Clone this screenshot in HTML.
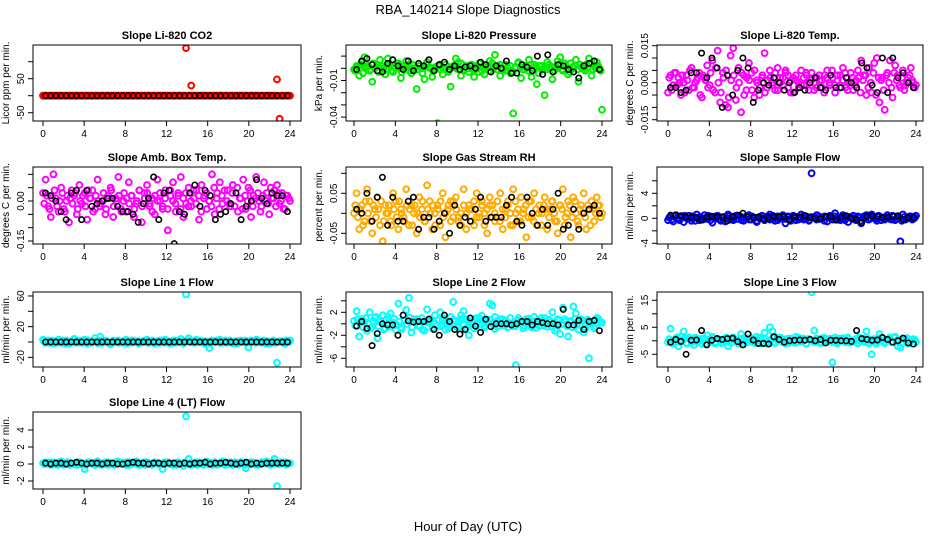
<!DOCTYPE html>
<html><head><meta charset="utf-8"><style>
html,body{margin:0;padding:0;background:#fff;}
svg text{font-family:"Liberation Sans",Arial,sans-serif;}
</style></head><body>
<svg id="chart" width="936" height="540" viewBox="0 0 936 540" xmlns="http://www.w3.org/2000/svg">
<text x="468" y="14" text-anchor="middle" font-size="13">RBA_140214  Slope Diagnostics</text>
<text x="468" y="531" text-anchor="middle" font-size="13">Hour of Day (UTC)</text>
</svg>
<script>
// ---- data (values in scaled units; see panel scale) ----
const xTicks = [0,4,8,12,16,20,24];
const co2Color = [0,0,0,0,0,0,0,0,0,0,0,0,0,0,0,0,0,0,0,0,0,0,0,0,0,0,0,0,0,0,0,0,0,0,0,0,0,0,0,0,0,0,0,0,0,0,0,0,0,0,0,0,0,0,0,140,0,30,0,0,0,0,0,0,0,0,0,0,0,0,0,0,0,0,0,0,0,0,0,0,0,0,0,0,0,0,0,0,0,0,48,-68,0,0,0,0];
const co2Color2 = [0,0,0,0,0,0,0,0,0,0,0,0,0,0,0,0,0,0,0,0,0,0,0,0,0,0,0,0,0,0,0,0,0,0,0,0,0,0,0,0,0,0,0,0,0,0,0,0,0,0,0,0,0,0,0,0,0,0,0,0,0,0,0,0,0,0,0,0,0,0,0,0,0,0,0,0,0,0,0,0,0,0,0,0,0,0,0,0,0,0,0,0,0,0,0,0];
const co2Black = [0,0,0,0,0,0,0,0,0,0,0,0,0,0,0,0,0,0,0,0,0,0,0,0,0,0,0,0,0,0,0,0,0,0,0,0,0,0,0,0,0,0,0,0,0,0,0,0];
const presColor = [-1,2,-6,5,9,1,-2,-11,0,3,7,-1,-5,8,2,-3,1,4,-8,0,6,3,-4,-1,-17,2,0,-9,5,1,-7,-1,-45,3,-5,0,-2,-15,1,8,5,-6,-1,2,-3,3,-7,0,4,-2,-5,1,6,0,11,2,-6,-1,3,-2,-4,-37,1,5,-8,-1,0,7,-7,3,-13,2,-1,-22,5,0,-9,1,6,9,-2,2,-5,4,0,7,-11,1,-1,3,8,-6,2,5,0,-34];
const presColor2 = [-2,1,3,-4,0,2,-1,4,1,-3,2,0,-1,3,-2,1,4,0,-3,2,1,-2,3,0,-1,2,-4,1,3,0,-2,1,2,-1,0,3,-3,1,2,0,-1,4,-2,1,0,3,-1,2,-3,1,0,2,-2,4,1,-1,3,0,-2,1,2,-3,0,4,1,-1,2,-2,3,0,1,-4,2,0,-1,3,1,-2,0,2,-1,4,0,-3,1,2,-1,3,0,-2,1,4,-1,0,2,-2];
const presBlack = [-1,6,8,3,-2,-3,4,7,2,-1,6,-2,4,2,7,-2,3,5,-1,2,-1,1,2,0,5,3,-3,2,0,6,-4,-4,3,1,-2,10,-5,11,-3,3,2,-1,-3,-8,2,4,6,-1];
const tempColor = [-4,3,-1,4,2,-5,0,3,-3,6,-2,1,4,-6,2,7,-1,9,-4,13,-8,4,-9,-10,11,14,-7,6,-12,3,-3,8,4,-6,1,-5,2,12,-2,5,0,-3,6,2,-1,4,3,-4,2,1,-2,5,-1,3,0,4,-3,2,1,-2,3,5,-1,2,-4,1,3,6,-2,0,4,-3,1,2,9,3,-5,6,-4,8,10,-8,2,-11,4,9,-6,7,3,-2,5,-1,2,6,0,-1];
const tempColor2 = [2,-3,4,-1,0,3,-4,1,5,-2,0,2,-5,3,1,-2,4,-3,6,0,-4,2,5,-6,1,3,-2,0,4,-5,2,1,-3,5,0,-2,3,-4,1,2,-1,4,-3,0,2,5,-2,1,-4,3,0,-1,2,4,-3,1,0,-2,3,1,-4,2,0,5,-1,3,-2,1,4,-3,0,2,-1,5,-4,1,3,-2,0,4,-5,2,1,-3,3,0,-2,4,1,-1,2,-3,0,3,1,-2];
const tempBlack = [-2,-2,-4,-3,4,4,12,2,10,6,-10,3,-5,5,10,6,-8,-3,0,-1,2,0,-3,0,-4,-2,-3,0,2,-2,-3,3,-2,-2,2,0,-2,8,6,-1,-4,10,-4,10,2,4,0,-2];
const ambColor = [3,8,-2,-6,10,1,-4,5,-3,0,-8,4,2,-5,6,-1,3,-7,1,4,-3,8,-2,0,-5,2,5,-6,1,9,-3,0,-4,7,2,-6,-1,4,-8,3,6,-2,1,-5,8,0,-3,4,-11,2,7,-4,3,9,-6,-1,5,-2,1,4,-7,6,2,-3,0,10,-5,3,7,-1,14,4,-2,6,14,-4,1,8,-3,5,-6,2,9,0,-2,7,3,-5,1,4,6,-1,3,-3,2,0];
const ambColor2 = [-1,2,-3,1,4,-2,0,3,-4,2,1,-1,3,-3,0,2,-2,4,1,-4,2,0,-1,3,-3,1,4,-2,0,2,-4,3,1,-1,2,-3,0,4,-2,1,3,-1,-4,2,0,3,-2,1,-3,4,0,-1,2,-3,1,3,-2,0,4,-1,2,-4,1,3,0,-2,5,1,-3,2,4,0,-1,3,-2,5,1,-3,2,0,4,-2,1,3,-4,2,0,-1,5,1,-2,3,0,-3,2,1];
const ambBlack = [3,2,0,-4,-7,3,4,-7,4,-2,-1,0,1,1,-2,-4,-4,-5,-8,-1,1,9,-7,3,4,-16,-4,-5,3,6,-2,4,2,-7,-5,-4,-1,3,-7,-2,0,8,1,-1,3,2,2,-4];
const rhColor = [0,5,-4,2,-2,6,3,-5,1,4,-3,-7,2,0,-2,5,3,-4,1,-1,6,-3,2,0,-5,4,1,-2,7,3,-4,0,2,-3,5,-6,1,3,-1,4,-2,0,6,-4,2,1,-3,5,-1,3,0,-5,4,2,-2,13,5,-4,1,3,-3,6,0,-2,4,1,-6,3,-1,5,-3,2,0,4,-4,1,3,-2,-5,2,6,-1,3,-6,4,0,-3,2,5,-4,1,3,-2,4,2,0];
const rhColor2 = [2,-1,1,-3,3,0,-2,2,-1,1,3,-2,0,2,-3,1,-1,3,0,-2,2,1,-3,2,0,-1,3,-2,1,0,2,-3,1,3,-1,0,2,-2,3,1,-1,-3,2,0,1,-2,3,-1,0,2,-3,1,2,-1,0,3,-2,1,-1,2,0,-3,3,1,-2,0,2,-1,3,-2,1,0,-3,2,1,-1,3,0,-2,2,1,-3,0,2,-1,3,-2,1,0,-1,2,-3,1,0,2,-1];
const rhBlack = [1,0,5,-2,4,9,-3,4,-2,-2,3,4,-4,-1,-1,-4,-2,0,-5,2,-3,-1,-2,1,4,-2,-1,-1,-1,2,4,-2,-3,4,0,-3,1,-3,1,5,-4,-3,1,-4,0,1,2,0];
const sampColor = [-3,2,-5,5,-2,3,-6,1,4,-4,2,6,-3,0,5,-1,3,-7,2,4,-2,1,-5,6,0,-3,4,-1,2,-4,3,5,-2,1,-6,0,4,-3,2,6,-1,-4,3,0,5,-8,2,-1,4,-3,1,6,-2,3,-4,72,2,5,-1,0,3,-5,4,-2,8,1,-3,5,0,-6,2,4,-3,1,-8,3,5,-2,6,0,-4,3,1,-2,5,-1,4,-3,2,-37,6,-2,1,3,-1,4];
const sampColor2 = [1,-2,3,0,-3,2,4,-1,0,3,-4,1,2,-2,0,4,-3,1,3,-1,-4,2,0,3,-2,1,-1,4,-3,0,2,-2,3,1,-4,2,0,-1,3,-2,4,1,-3,0,2,-1,3,-4,1,2,-2,0,4,-1,-3,2,1,-2,3,0,-4,2,1,-1,3,-2,0,4,-3,1,2,-1,0,3,-4,1,2,-2,0,3,-1,4,-3,1,0,2,-2,3,-1,1,-4,2,0,3,-2,1];
const sampBlack = [5,5,4,2,2,1,-3,2,3,2,2,-4,3,5,8,2,1,2,-2,1,3,2,3,-3,3,2,4,1,0,-1,2,3,-3,2,4,0,-2,-7,3,4,3,1,2,3,4,-2,1,1];
const l1Color = [3,-1,2,0,-2,1,3,-1,0,2,-2,1,4,0,-1,2,3,-2,1,0,5,1,7,-1,2,0,-3,1,0,2,-1,1,3,0,-1,2,1,-2,0,1,3,-1,2,0,1,-1,2,3,0,-2,1,2,0,4,1,62,5,2,-1,3,0,1,-2,-1,-8,2,0,1,3,-1,2,0,1,-2,0,1,2,0,-1,-7,2,1,3,0,-1,2,1,-2,0,-1,-27,1,0,-2,1,2];
const l1Color2 = [1,0,-1,2,1,-1,0,2,-2,1,0,1,-1,2,0,-1,1,2,-1,0,1,-2,2,0,1,-1,0,2,1,-1,0,1,-2,1,2,0,-1,1,0,2,-1,0,1,-2,1,2,0,-1,1,0,2,-1,1,0,-2,1,2,0,-1,1,0,2,-1,1,-2,0,1,2,-1,0,1,-1,2,0,1,-2,0,1,2,-1,0,1,-1,2,0,1,-2,1,0,2,-1,0,1,-1,2,0];
const l1Black = [0,0,0,0,0,0,0,0,0,0,0,0,0,0,0,0,0,0,0,0,0,0,0,0,0,0,0,0,0,0,0,0,0,0,0,0,0,0,0,0,0,0,0,0,0,0,0,0];
const l2Color = [5,22,-22,8,3,-12,20,-5,10,-25,4,15,-8,12,18,2,-10,35,-6,15,24,45,-15,8,3,-5,10,-12,25,4,-8,15,-3,20,6,-10,-2,12,38,5,-6,15,22,8,-20,3,-8,10,5,14,-4,6,35,32,12,-5,8,-3,6,2,0,-4,-72,10,5,-3,8,3,-6,12,0,-4,6,10,-5,3,20,-12,8,-18,28,4,-22,5,30,18,-10,8,-15,6,-60,3,-8,10,5,2];
const l2Color2 = [-3,8,2,-6,10,0,-8,5,12,-4,3,-10,7,1,-5,9,-2,4,-9,6,0,11,-6,3,8,-3,-10,5,2,9,-7,0,6,-4,10,3,-8,1,7,-5,4,9,-2,-7,5,1,8,-4,10,-1,-6,3,7,0,-9,5,2,8,-3,-6,10,1,-4,6,3,-8,0,9,-2,5,-7,4,10,-3,1,7,-5,2,-9,6,0,8,-4,3,-6,9,1,-2,5,-8,7,0,4,-5,9,2];
const l2Black = [-4,4,-8,-38,-17,0,-2,-2,-20,15,5,3,4,4,8,-10,-20,15,4,-10,-18,-10,10,-4,-15,8,-5,0,0,0,-2,0,4,4,-2,4,2,0,0,-2,25,-2,-2,6,-10,4,6,-12];
const l3Color = [-5,45,-10,8,-20,15,35,-8,12,0,-15,10,5,-12,8,20,-5,15,-10,8,3,-6,10,-20,5,12,0,-8,25,-12,6,-3,10,-5,15,8,-10,30,-4,50,35,-8,12,0,5,-10,8,3,-6,15,12,-2,8,-10,5,180,38,6,-8,10,3,-5,8,-80,12,-3,5,10,-6,8,0,-4,6,12,-2,8,35,-10,-50,6,-3,25,10,-8,4,12,-5,15,-20,-25,8,5,-10,3,6,-5];
const l3Color2 = [6,-8,3,12,-4,0,9,-10,5,-2,11,-6,2,8,-12,4,0,10,-5,7,-9,3,12,-3,-7,6,1,-11,8,2,-5,10,-1,-8,4,11,-3,6,-10,2,9,-6,0,12,-4,5,-9,8,1,-7,10,-2,4,-11,7,0,-5,9,3,-8,11,-1,6,-4,2,-10,8,5,-3,12,-7,0,4,-9,10,1,-5,7,-2,3,-11,9,0,-6,5,8,-4,11,-1,2,-8,6,10,-3,0,4];
const l3Black = [-5,5,-2,-50,2,3,38,-15,2,8,5,8,10,-3,-15,25,3,-10,-10,-12,15,5,-5,0,2,3,2,5,0,5,-8,2,2,0,0,-2,38,8,5,2,3,12,5,-5,0,10,-8,-12];
const l4Color = [1,2,0,-1,2,1,0,3,-1,1,2,0,1,-1,2,0,-6,1,2,0,-1,3,1,0,2,-1,0,1,2,3,0,1,-1,2,0,1,3,-1,0,2,1,0,-1,2,1,0,-6,1,2,0,-1,1,2,0,-2,56,6,1,0,-1,2,1,0,3,1,-1,2,0,1,3,-1,0,2,1,0,-1,2,1,-5,0,2,1,-1,0,2,1,3,0,1,6,-26,0,1,2,0,1];
const l4Color2 = [0,1,2,0,1,-1,2,0,1,2,-1,0,1,2,0,1,-1,2,1,0,2,1,-1,0,1,2,0,-1,1,2,0,1,2,-1,0,1,2,1,0,-1,2,0,1,2,1,-1,0,2,1,0,1,-1,2,0,1,2,0,-1,1,2,1,0,-1,2,0,1,2,-1,0,1,2,0,1,-1,2,1,0,2,-1,1,0,2,1,-1,0,2,1,0,-1,2,1,0,2,1,-1,0];
const l4Black = [1,0,1,1,0,1,2,1,0,1,1,0,1,1,0,0,1,2,1,1,0,1,1,0,1,1,0,1,0,1,1,2,0,1,1,2,1,0,1,2,0,1,0,1,1,1,1,1];

// ---- layout (presentation) ----
const colX = [[33,301,43,290],[346,612,354,602],[657,923,668,916]];
const rowY = [[45,121],[167,244],[292,367],[412,489]];
const panels = [
 {name:'co2',title:'Slope Li-820 CO2',ylab:'Licor ppm per min.',c:0,r:0,color:'#ff0000',cv:co2Color,cv2:co2Color2,bv:co2Black,y0:95.7,k:0.34,ticks:[-50,0,50,100],labs:[[-50,'-50'],[50,'50']]},
 {name:'pressure',title:'Slope Li-820 Pressure',ylab:'kPa per min.',c:1,r:0,color:'#00ee00',cv:presColor,cv2:presColor2,bv:presBlack,y0:68.3,k:1.22,ticks:[-40,-30,-20,-10,0,10],labs:[[-40,'-0.04'],[-10,'-0.01']]},
 {name:'temp',title:'Slope Li-820 Temp.',ylab:'degrees C per min.',c:2,r:0,color:'#ff00ff',cv:tempColor,cv2:tempColor2,bv:tempBlack,y0:82.7,k:2.467,ticks:[-15,-10,-5,0,5,10,15],labs:[[-15,'-0.015'],[0,'0.000'],[15,'0.015']]},
 {name:'amb-temp',title:'Slope Amb. Box Temp.',ylab:'degrees C per min.',c:0,r:1,color:'#ff00ff',cv:ambColor,cv2:ambColor2,bv:ambBlack,y0:201,k:2.667,ticks:[-15,-10,-5,0,5,10],labs:[[-15,'-0.15'],[0,'0.00']]},
 {name:'rh',title:'Slope Gas Stream RH',ylab:'percent per min.',c:1,r:1,color:'#ffaa00',cv:rhColor,cv2:rhColor2,bv:rhBlack,y0:213.3,k:4,ticks:[-5,0,5,10],labs:[[-5,'-0.05'],[5,'0.05']]},
 {name:'sample-flow',title:'Slope Sample Flow',ylab:'ml/min per min.',c:2,r:1,color:'#0000ff',cv:sampColor,cv2:sampColor2,bv:sampBlack,y0:218.3,k:0.625,ticks:[-40,-20,0,20,40,60],labs:[[-40,'-4'],[0,'0'],[40,'4']]},
 {name:'line1',title:'Slope Line 1 Flow',ylab:'ml/min per min.',c:0,r:2,color:'#00ffff',cv:l1Color,cv2:l1Color2,bv:l1Black,y0:342,k:0.767,ticks:[-20,0,20,40,60],labs:[[-20,'-20'],[20,'20'],[60,'60']]},
 {name:'line2',title:'Slope Line 2 Flow',ylab:'ml/min per min.',c:1,r:2,color:'#00ffff',cv:l2Color,cv2:l2Color2,bv:l2Black,y0:323.8,k:0.575,ticks:[-60,-40,-20,0,20,40],labs:[[-60,'-6'],[-20,'-2'],[20,'2']]},
 {name:'line3',title:'Slope Line 3 Flow',ylab:'ml/min per min.',c:2,r:2,color:'#00ffff',cv:l3Color,cv2:l3Color2,bv:l3Black,y0:340.8,k:0.27,ticks:[-50,0,50,100,150],labs:[[-50,'-5'],[50,'5'],[150,'15']]},
 {name:'line4',title:'Slope Line 4 (LT) Flow',ylab:'ml/min per min.',c:0,r:3,color:'#00ffff',cv:l4Color,cv2:l4Color2,bv:l4Black,y0:464,k:0.85,ticks:[-20,0,20,40],labs:[[-20,'-2'],[0,'0'],[20,'2'],[40,'4']]}
];
const NS='http://www.w3.org/2000/svg';
const svg=document.getElementById('chart');
function mk(tag,attrs,parent){const e=document.createElementNS(NS,tag);for(const a in attrs)e.setAttribute(a,attrs[a]);(parent||svg).appendChild(e);return e;}
panels.forEach(p=>{
  const [bx0,bx1,x0,x24]=colX[p.c];const [by0,by1]=rowY[p.r];
  const xs=t=>x0+(x24-x0)*t/24;
  const ys=v=>p.y0-v*p.k;
  const g=mk('g',{});
  
  
  const clip=mk('clipPath',{id:'clip-'+p.name},g);
  mk('rect',{x:bx0,y:by0,width:bx1-bx0,height:by1-by0},clip);
  const pts=mk('g',{'clip-path':'url(#clip-'+p.name+')'},g);
  
  
  p.cv2.forEach((v,i)=>{
    const t=0.12+i*23.76/(p.cv2.length-1);
    const c=mk('circle',{cx:xs(t),cy:ys(v),r:2.9,fill:'none',stroke:p.color,'stroke-width':2},pts);
    
    
  });
  p.cv.forEach((v,i)=>{
    const t=i*24/(p.cv.length-1);
    const c=mk('circle',{cx:xs(t),cy:ys(v),r:2.9,fill:'none',stroke:p.color,'stroke-width':2},pts);
    
    
  });
  p.bv.forEach((v,i)=>{
    const t=0.25+i*23.5/(p.bv.length-1);
    const c=mk('circle',{cx:xs(t),cy:ys(v),r:2.7,fill:'none',stroke:'#000','stroke-width':1.6},pts);
    
    
  });
  const box=mk('rect',{x:bx0,y:by0,width:bx1-bx0,height:by1-by0,fill:'none',stroke:'#000','stroke-width':1},g);
  
  
  const t=mk('text',{x:(bx0+bx1)/2,y:by0-6,'text-anchor':'middle','font-size':11,'font-weight':'bold'},g);
  t.textContent=p.title;
  
  
  mk('line',{x1:xs(0),x2:xs(24),y1:by1,y2:by1,stroke:'#000'},g);
  xTicks.forEach(v=>{
    mk('line',{x1:xs(v),x2:xs(v),y1:by1,y2:by1+5,stroke:'#000'},g);
    const tl=mk('text',{x:xs(v),y:by1+16,'text-anchor':'middle','font-size':10},g);
    tl.textContent=v;
    
    
  });
  const tk=p.ticks;
  mk('line',{x1:bx0,x2:bx0,y1:ys(tk[0]),y2:ys(tk[tk.length-1]),stroke:'#000'},g);
  tk.forEach(v=>mk('line',{x1:bx0-5,x2:bx0,y1:ys(v),y2:ys(v),stroke:'#000'},g));
  p.labs.forEach(([v,s])=>{
    const yy=ys(v),xx=bx0-9;
    const tl=mk('text',{x:xx,y:yy,'text-anchor':'middle','font-size':10,transform:'rotate(-90 '+xx+' '+yy+')'},g);
    tl.textContent=s;
    
    
  });
  const yl=bx0-24,ym=(by0+by1)/2;
  const yt=mk('text',{x:yl,y:ym,'text-anchor':'middle','font-size':10,transform:'rotate(-90 '+yl+' '+ym+')'},g);
  yt.textContent=p.ylab;
  
  
});
</script>
</body></html>
